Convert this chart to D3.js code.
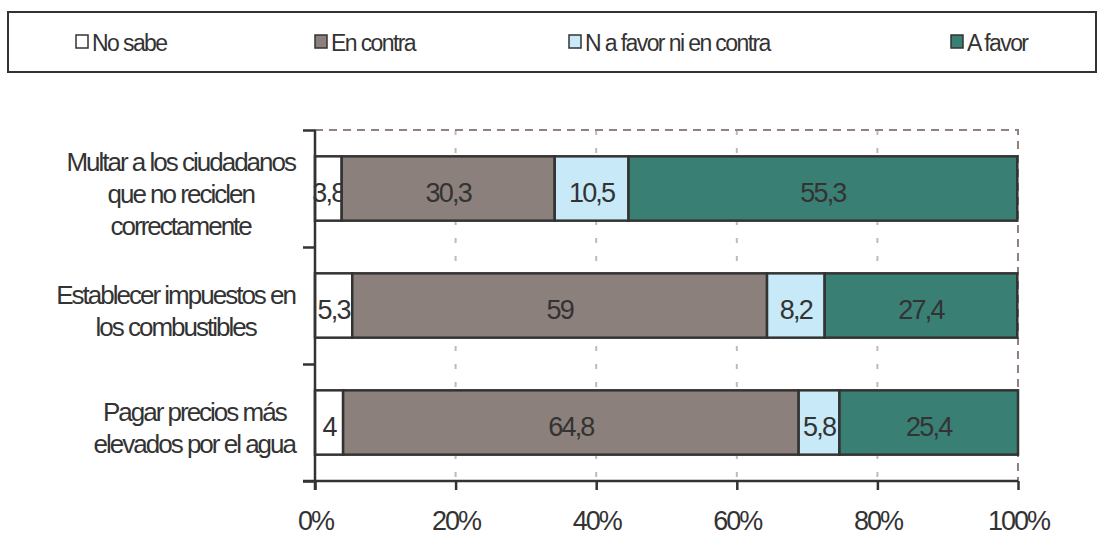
<!DOCTYPE html>
<html><head>
<meta charset="utf-8">
<script src="https://cdn.jsdelivr.net/npm/d3@7"></script>
<style>
  body { margin: 0; background: #fff; }
  svg text { font-family: "Liberation Sans", Arial, sans-serif; fill: #333; }
</style>
</head>
<body>
<svg width="1103" height="536"></svg>
<script>
  // data
  const categories = [
    ["Multar a los ciudadanos", "que no reciclen", "correctamente"],
    ["Establecer impuestos en", "los combustibles"],
    ["Pagar precios más", "elevados por el agua"]
  ];
  const series = ["No sabe", "En contra", "N a favor ni en contra", "A favor"];
  const noSabe   = [3.8, 5.3, 4];
  const enContra = [30.3, 59, 64.8];
  const neutral  = [10.5, 8.2, 5.8];
  const aFavor   = [55.3, 27.4, 25.4];
  const xTicks = [0, 20, 40, 60, 80, 100];

  const colors = ["#ffffff", "#8c807c", "#c7e9f8", "#3a7f74"];
  const legendX = [76, 315, 569, 951];

  const svg = d3.select("svg");
  const pLeft = 315, pRight = 1018, pTop = 130, pBottom = 481;

  const x = d3.scaleLinear().domain([0, 100]).range([pLeft, pRight]);
  const y = d3.scaleBand().domain(d3.range(categories.length))
      .range([pTop, pBottom]).paddingInner(0.45).paddingOuter(0.225);
  const yEdge = d3.scaleLinear().domain([0, categories.length]).range([pTop, pBottom]);

  // legend
  svg.append("rect").attr("x", 8).attr("y", 12).attr("width", 1088).attr("height", 60)
      .attr("fill", "none").attr("stroke", "#333").attr("stroke-width", 2);
  series.forEach(function(s, i) {
    let g = svg.append("g").attr("transform", "translate(" + legendX[i] + ",0)");
    g.append("rect").attr("x", 0).attr("y", 35).attr("width", 12).attr("height", 13)
        .attr("fill", colors[i]).attr("stroke", "#333").attr("stroke-width", 1.5);
    g.append("text").attr("x", 16).attr("y", 51).text(s)
        .style("font-size", "23px").style("letter-spacing", "-1.6px");
  });

  // grid lines
  svg.append("g").selectAll("line").data(xTicks.slice(1, -1)).join("line")
      .attr("x1", d => x(d)).attr("x2", d => x(d))
      .attr("y1", pTop).attr("y2", pBottom)
      .attr("stroke", "#c2b9b7").attr("stroke-width", 2).attr("stroke-dasharray", "5,13");

  // dashed plot border
  const border = "#8f827f";
  svg.append("path")
      .attr("d", "M" + pLeft + "," + pTop + "H" + pRight + "V" + pBottom + "H" + pLeft + "Z")
      .attr("fill", "none").attr("stroke", border).attr("stroke-width", 2)
      .attr("stroke-dasharray", "8,6");

  // stacked bars
  const stackData = categories.map((c, i) => ({
    i: i, v: [noSabe[i], enContra[i], neutral[i], aFavor[i]]
  }));
  stackData.forEach(function(row) {
    let cum = 0;
    row.v.forEach(function(v, k) {
      const x0 = x(cum), x1 = x(cum + v);
      svg.append("rect")
          .attr("x", x0).attr("y", y(row.i))
          .attr("width", x1 - x0).attr("height", y.bandwidth())
          .attr("fill", colors[k]).attr("stroke", "#333").attr("stroke-width", 2.5);
      svg.append("text")
          .attr("x", (x0 + x1) / 2).attr("y", y(row.i) + y.bandwidth() / 2 + 13)
          .attr("text-anchor", "middle")
          .style("font-size", "27px").style("letter-spacing", "-1.8px")
          .text(String(v).replace(".", ","));
      cum += v;
    });
  });

  // x axis
  const xAxis = svg.append("g").attr("transform", "translate(0," + pBottom + ")")
      .call(d3.axisBottom(x).tickValues(xTicks).tickSize(9).tickPadding(21)
        .tickFormat(d => d + "%"));
  xAxis.select(".domain").attr("stroke", "#333").attr("stroke-width", 2.5)
      .attr("d", "M" + (pLeft - 12) + ",0H" + pRight);
  xAxis.selectAll(".tick line").attr("stroke", "#333").attr("stroke-width", 2.5);
  xAxis.selectAll("text").attr("fill", "#333")
      .style("font-size", "27px").style("letter-spacing", "-2px")
      .style("font-family", "Liberation Sans, Arial, sans-serif");

  // y axis
  const yAxis = svg.append("g").attr("transform", "translate(" + pLeft + ",0)")
      .call(d3.axisLeft(yEdge).tickValues(d3.range(categories.length + 1))
        .tickSize(12).tickFormat(""));
  yAxis.select(".domain").attr("stroke", "#333").attr("stroke-width", 2.5)
      .attr("d", "M0," + pTop + "V" + (pBottom + 9));
  yAxis.selectAll(".tick line").attr("stroke", "#333").attr("stroke-width", 2.5);

  // category labels
  const lineH = 32;
  categories.forEach(function(lines, i) {
    const g = svg.append("g");
    const cy = y(i) + y.bandwidth() / 2;
    const t0 = cy - (lines.length - 1) * lineH / 2 + 14;
    const texts = lines.map((l, j) => g.append("text")
        .attr("y", t0 + j * lineH).attr("text-anchor", "middle")
        .style("font-size", "26px").style("letter-spacing", "-2px").text(l));
    const maxW = d3.max(texts, t => t.node().getComputedTextLength());
    texts.forEach(t => t.attr("x", 295 - maxW / 2));
  });
</script>
</body>
</html>
